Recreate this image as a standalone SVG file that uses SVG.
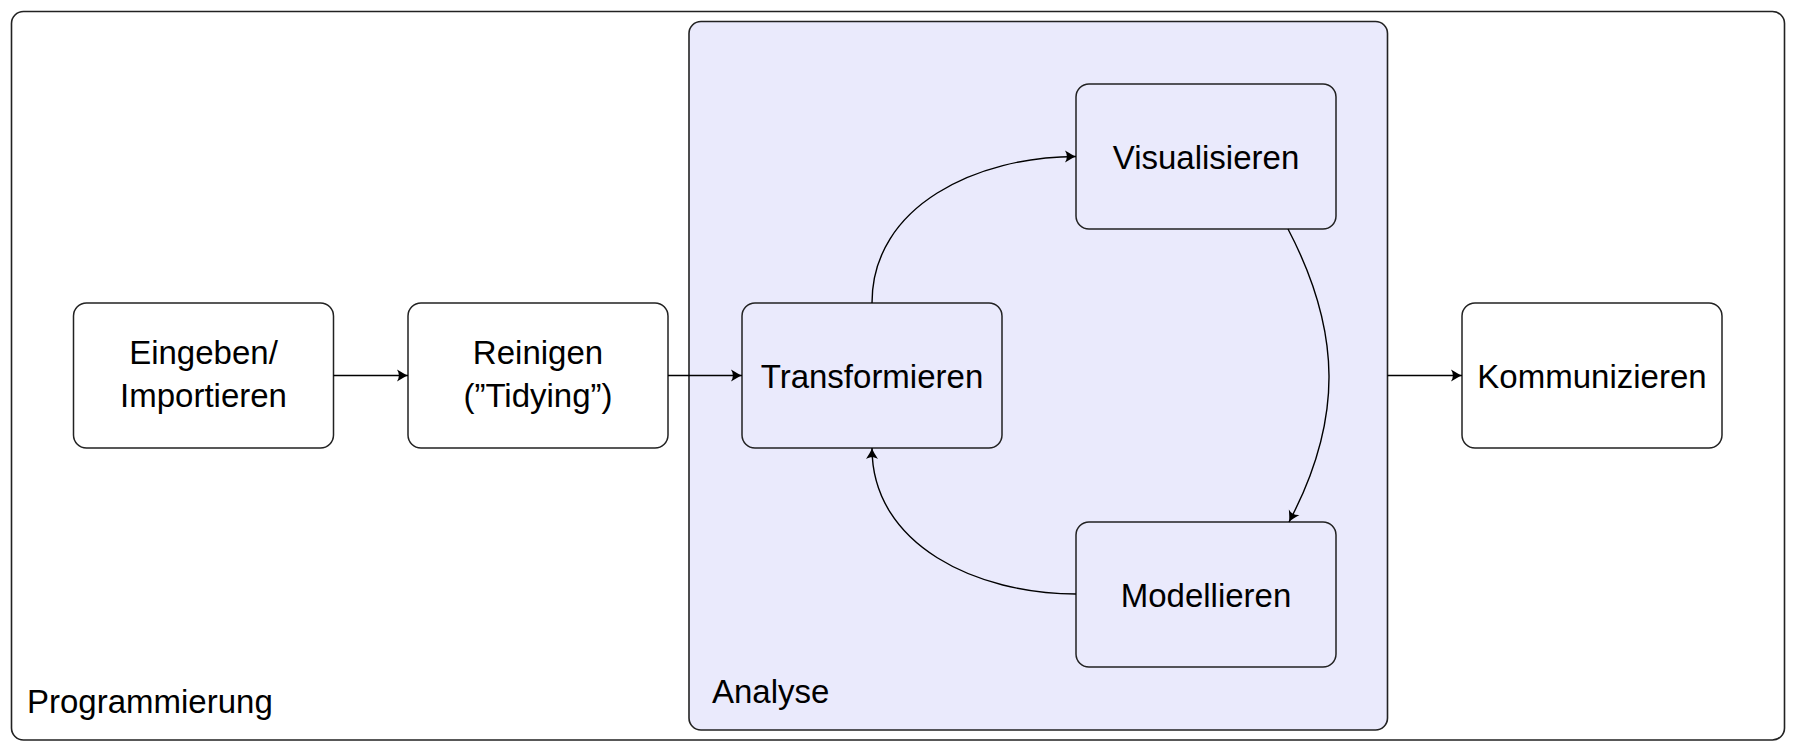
<svg xmlns="http://www.w3.org/2000/svg" width="1797" height="752" viewBox="0 0 1797 752">
<style>
.frame{fill:#ffffff;stroke:#222;stroke-width:1.6}
.analyse{fill:#eaeafc;stroke:#222;stroke-width:1.6}
.box{stroke:#222;stroke-width:1.5}
.w{fill:#ffffff}
.b{fill:#eaeafc}
.t{font-family:"Liberation Sans",Arial,sans-serif;font-size:33px;fill:#000;text-anchor:middle}
.lbl{font-family:"Liberation Sans",Arial,sans-serif;font-size:33px;fill:#000}
.edge{fill:none;stroke:#000;stroke-width:1.4;marker-end:url(#arr)}
</style>
<defs>
<marker id="arr" markerUnits="userSpaceOnUse" markerWidth="14" markerHeight="14" viewBox="-12 -7 14 14" refX="0" refY="0" orient="auto">
<path d="M0,0 C-3,-1 -7,-3.5 -11,-6 C-8.5,-2 -8.5,2 -11,6 C-7,3.5 -3,1 0,0 Z" fill="#000"/>
</marker>
</defs>
<g id="programmierung">
<rect class="frame" x="11.5" y="11.5" width="1773" height="728.5" rx="12"/>
<text class="lbl" x="27" y="713">Programmierung</text>
</g>
<g id="analyse">
<rect class="analyse" x="689" y="21.5" width="698.5" height="708.5" rx="12"/>
<text class="lbl" x="712" y="703">Analyse</text>
</g>
<g id="eingeben">
<rect class="box w" x="73.5" y="303" width="260" height="145" rx="13"/>
<text class="t" x="203.5" y="363.5">Eingeben/</text>
<text class="t" x="203.5" y="407">Importieren</text>
</g>
<g id="reinigen">
<rect class="box w" x="408" y="303" width="260" height="145" rx="13"/>
<text class="t" x="538" y="363.5">Reinigen</text>
<text class="t" x="538" y="407">(”Tidying”)</text>
</g>
<g id="transformieren">
<rect class="box b" x="742" y="303" width="260" height="145" rx="13"/>
<text class="t" x="872" y="388">Transformieren</text>
</g>
<g id="visualisieren">
<rect class="box b" x="1076" y="84" width="260" height="145" rx="13"/>
<text class="t" x="1206" y="169">Visualisieren</text>
</g>
<g id="modellieren">
<rect class="box b" x="1076" y="522" width="260" height="145" rx="13"/>
<text class="t" x="1206" y="607">Modellieren</text>
</g>
<g id="kommunizieren">
<rect class="box w" x="1462" y="303" width="260" height="145" rx="13"/>
<text class="t" x="1592" y="388">Kommunizieren</text>
</g>
<g id="connectors">
<path class="edge" d="M333.5,375.5 L408,375.5"/>
<path class="edge" d="M668,375.5 L742,375.5"/>
<path class="edge" d="M1387.5,375.5 L1462,375.5"/>
<path class="edge" d="M872,303 C872,205 978,156.5 1076,156.5"/>
<path class="edge" d="M1288,229 C1342,332 1343,420 1289,522"/>
<path class="edge" d="M1076,594 C978,594 872,546 872,448"/>
</g>
</svg>
